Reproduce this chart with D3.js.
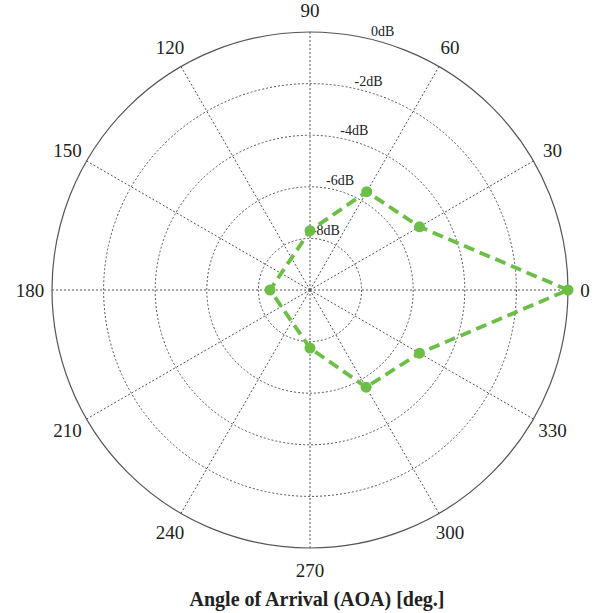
<!DOCTYPE html>
<html>
<head>
<meta charset="utf-8">
<script src="https://cdn.jsdelivr.net/npm/d3@7"></script>
<style>
  body { margin: 0; background: #fff; }
  text { font-family: "Liberation Serif", "DejaVu Serif", serif; fill: #222; }
</style>
</head>
<body>
<div id="app"></div>
<script>
// data
var angles = [0, 30, 60, 90, 180, 270, 300, 330];
var gains = [0, -5.1, -5.6, -7.7, -8.45, -7.75, -5.65, -5.1];
var ringValues = [-8, -6, -4, -2];
var ringLabels = ['-8dB', '-6dB', '-4dB', '-2dB', '0dB'];
var spokeAngles = [0, 30, 60, 90, 120, 150, 180, 210, 240, 270, 300, 330];
var xTitle = 'Angle of Arrival (AOA) [deg.]';

var width = 594,
  height = 613,
  cx = 310,
  cy = 290,
  outerR = 258;

var svg = d3.select('#app')
  .append('svg')
  .attr('width', width)
  .attr('height', height);

var g = svg.append('g')
  .attr('transform', 'translate(' + cx + ',' + cy + ')');

var rScale = d3.scaleLinear()
  .domain([-10, 0])
  .range([0, outerR]);

function polar(deg, r) {
  var a = deg * Math.PI / 180;
  return [r * Math.cos(a), -r * Math.sin(a)];
}

// rings
g.selectAll('circle.ring')
  .data(ringValues)
  .enter()
  .append('circle')
  .attr('class', 'ring')
  .attr('r', function (d) { return rScale(d); })
  .attr('fill', 'none')
  .attr('stroke', '#555')
  .attr('stroke-width', 1)
  .attr('stroke-dasharray', '2,2');

// spokes
g.selectAll('line.spoke')
  .data(spokeAngles)
  .enter()
  .append('line')
  .attr('class', 'spoke')
  .attr('x1', 0)
  .attr('y1', 0)
  .attr('x2', function (d) { return polar(d, outerR)[0]; })
  .attr('y2', function (d) { return polar(d, outerR)[1]; })
  .attr('stroke', '#555')
  .attr('stroke-width', 1)
  .attr('stroke-dasharray', '2,2');

// outer circle
g.append('circle')
  .attr('r', rScale(0))
  .attr('fill', 'none')
  .attr('stroke', '#555')
  .attr('stroke-width', 1.2);

// angle labels
g.selectAll('text.ang')
  .data(spokeAngles)
  .enter()
  .append('text')
  .attr('class', 'ang')
  .attr('x', function (d) { return polar(d, d === 0 ? 275 : 280)[0]; })
  .attr('y', function (d) { return polar(d, d === 0 ? 275 : 280)[1]; })
  .attr('dy', '0.35em')
  .style('text-anchor', 'middle')
  .style('font-size', '19px')
  .text(function (d) { return d; });

// dB labels
var dbVals = ringValues.concat([0]);
g.selectAll('text.db')
  .data(dbVals)
  .enter()
  .append('text')
  .attr('class', 'db')
  .attr('x', function (d) { return polar(74, rScale(d) + 6)[0]; })
  .attr('y', function (d) { return polar(74, rScale(d) + 6)[1]; })
  .style('text-anchor', 'middle')
  .style('font-size', '14px')
  .text(function (d, i) { return ringLabels[i]; });

// data line
var pts = angles.map(function (a, i) { return polar(a, rScale(gains[i])); });

g.append('path')
  .attr('d', d3.line().curve(d3.curveLinearClosed)(pts))
  .attr('fill', 'none')
  .attr('stroke', '#6cbf45')
  .attr('stroke-width', 3.8)
  .attr('stroke-dasharray', '11,6');

g.selectAll('circle.pt')
  .data(pts)
  .enter()
  .append('circle')
  .attr('class', 'pt')
  .attr('cx', function (d) { return d[0]; })
  .attr('cy', function (d) { return d[1]; })
  .attr('r', 5.5)
  .attr('fill', '#6cbf45');

// title
svg.append('text')
  .attr('x', 317)
  .attr('y', 606)
  .style('text-anchor', 'middle')
  .style('font-size', '20px')
  .style('font-weight', 'bold')
  .text(xTitle);
</script>
</body>
</html>
